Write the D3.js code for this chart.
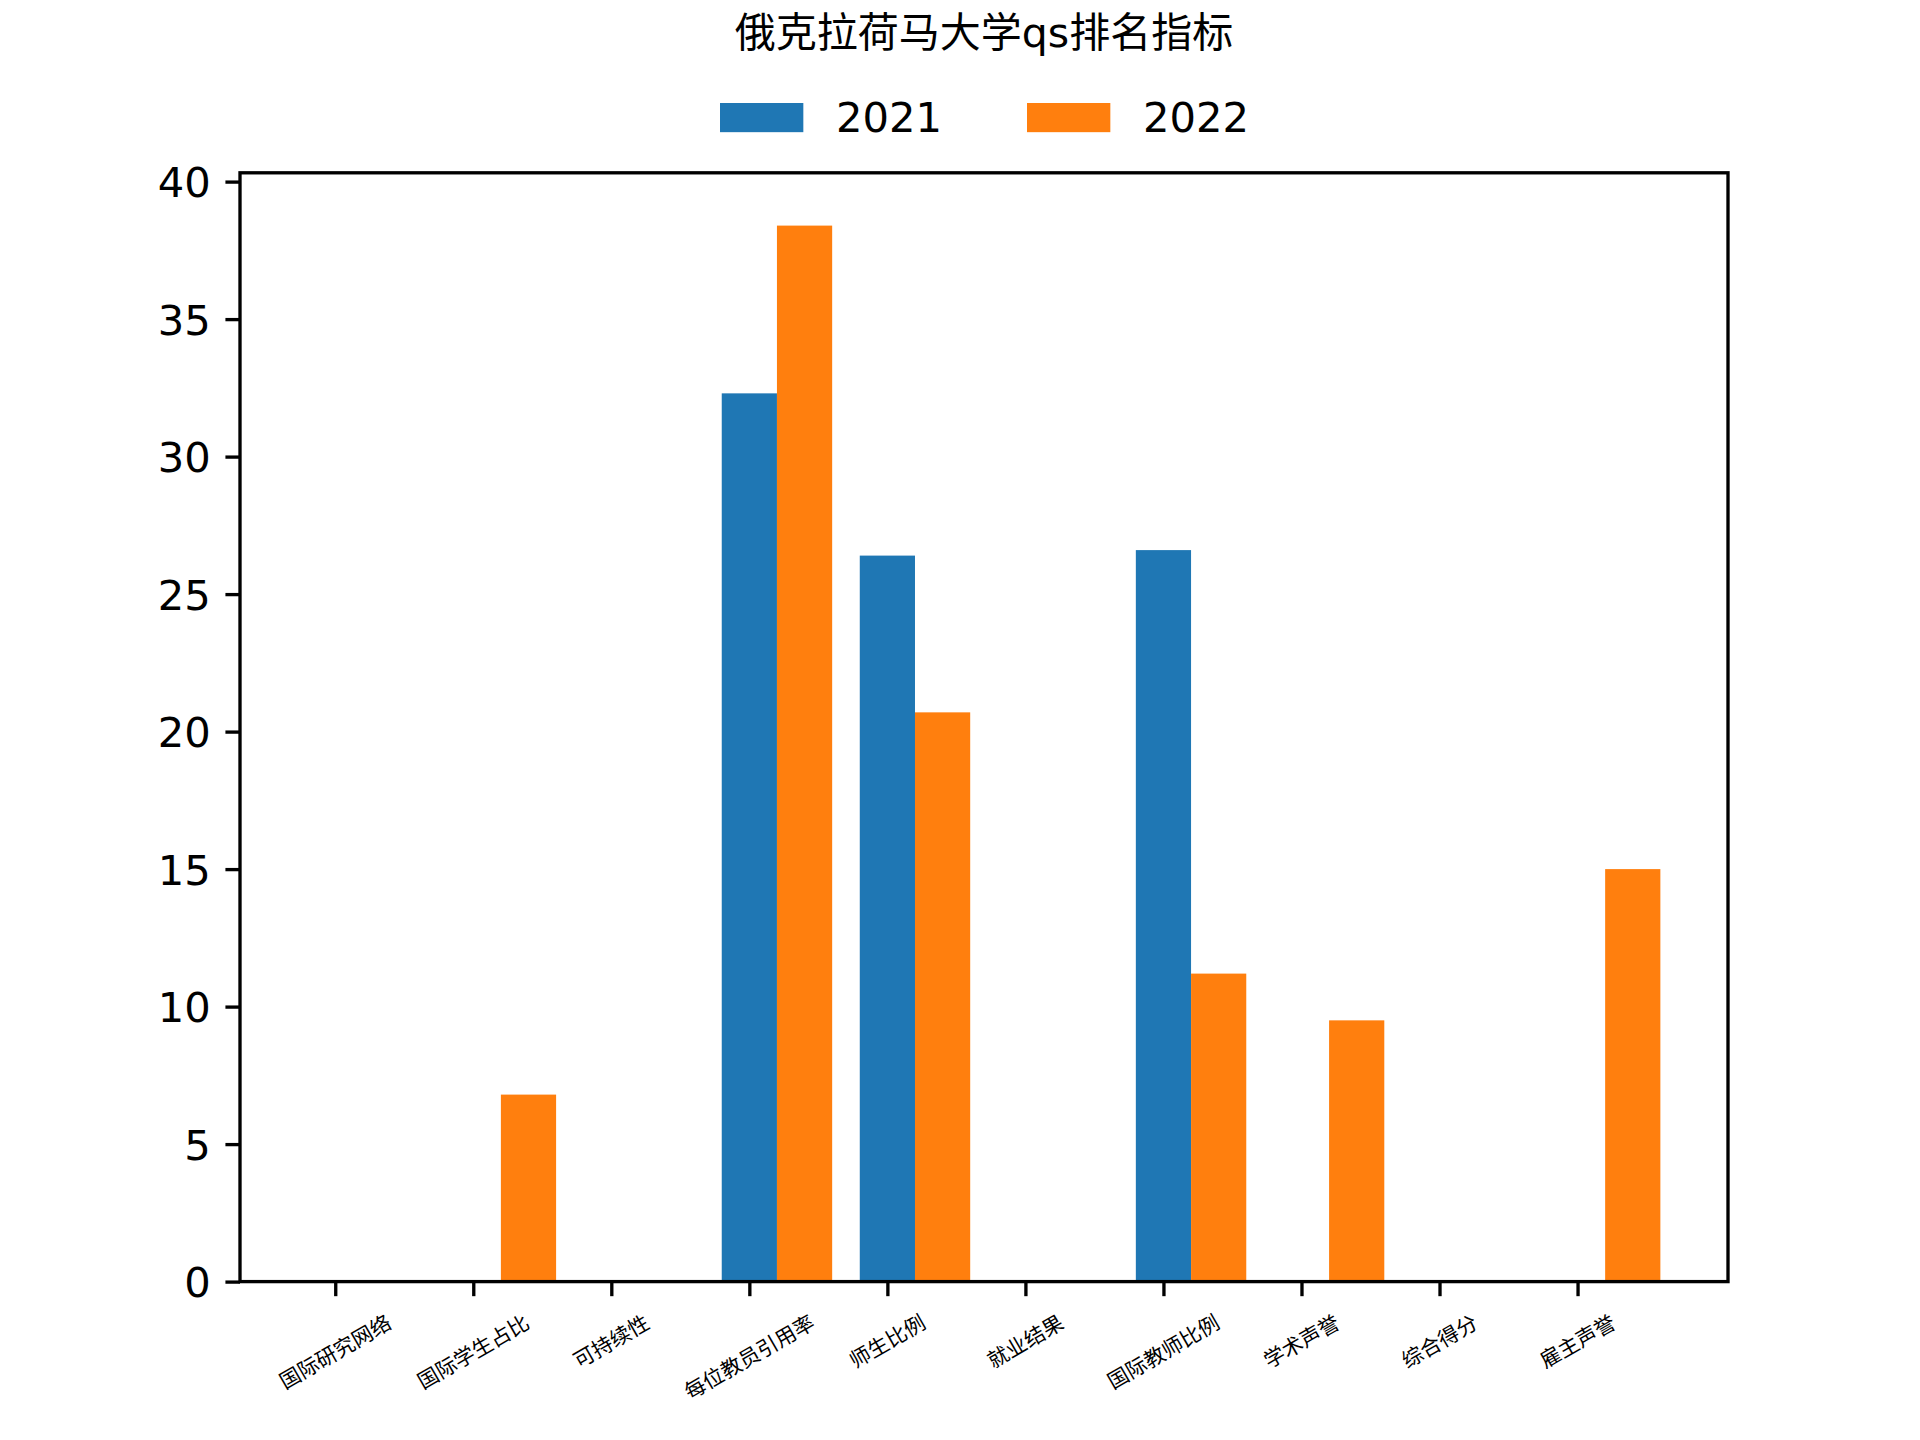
<!DOCTYPE html>
<html>
<head>
<meta charset="utf-8">
<script src="https://cdn.jsdelivr.net/npm/d3@7"></script>
<style>
	body { margin: 0; background: #fff; }
	svg { display: block; }
	.cjk { font-family: 'DejaVu Sans', 'Noto Sans CJK SC', sans-serif; }
</style>
</head>
<body>
<div class="container"></div>
<script>
var categories = ['国际研究网络', '国际学生占比', '可持续性', '每位教员引用率', '师生比例',
	'就业结果', '国际教师比例', '学术声誉', '综合得分', '雇主声誉'];
var years = ['2021', '2022'];
var values2021 = [0, 0, 0, 32.3, 26.4, 0, 26.6, 0, 0, 0];
var values2022 = [0, 6.8, 0, 38.4, 20.7, 0, 11.2, 9.5, 0, 15.0];
var yTicks = [0, 5, 10, 15, 20, 25, 30, 35, 40];
var titleText = '俄克拉荷马大学qs排名指标';

var colors = ['#1f77b4', '#ff7f0e'];
var series = [values2021, values2022];

var W = 1920, H = 1440;
var plotLeft = 240, plotRight = 1728, plotTop = 172.8, plotBottom = 1281.6;
var pt = 300 / 72;
var lw = 0.8 * pt;
var tickLen = 3.5 * pt;
var pad = 3.5 * pt;
var barW = 0.4;

var svg = d3.select('.container')
	.append('svg')
	.attr('width', W)
	.attr('height', H);

// matplotlib style autoscale: 5% margin
var xmin = -barW / 2, xmax = categories.length - 1 + barW * 1.5;
var xm = (xmax - xmin) * 0.05;
var x = d3.scaleLinear()
	.domain([xmin - xm, xmax + xm])
	.range([plotLeft, plotRight]);

var ymax = d3.max(values2021.concat(values2022)) * 1.05;
var y = d3.scaleLinear()
	.domain([0, ymax])
	.range([plotBottom, plotTop]);

// bars
series.forEach(function(vals, s) {
	svg.append('g')
		.selectAll('rect')
		.data(vals)
		.enter()
		.append('rect')
		.attr('x', function(d, i) { return x(i - barW / 2 + s * barW); })
		.attr('width', x(barW) - x(0))
		.attr('y', function(d) { return y(d); })
		.attr('height', function(d) { return y(0) - y(d); })
		.attr('fill', colors[s]);
});

// y axis
var yAxis = svg.append('g')
	.attr('transform', 'translate(' + plotLeft + ',0)')
	.call(d3.axisLeft(y).tickValues(yTicks).tickSize(tickLen).tickPadding(pad).tickFormat(d3.format('d')));
yAxis.select('.domain').remove();
yAxis.selectAll('.tick line').attr('stroke', '#000').attr('stroke-width', lw);
yAxis.selectAll('.tick text')
	.attr('font-family', 'DejaVu Sans')
	.attr('font-size', 10 * pt)
	.attr('fill', '#000')
	.attr('dy', '0.36em');

// x axis
var xAxis = svg.append('g')
	.attr('transform', 'translate(0,' + plotBottom + ')')
	.call(d3.axisBottom(x).tickValues(d3.range(categories.length)).tickSize(tickLen).tickFormat(''));
xAxis.select('.domain').remove();
xAxis.selectAll('.tick line').attr('stroke', '#000').attr('stroke-width', lw);

// rotated category labels, bbox centred under the tick
var labFont = 5 * pt;
var rot = 30 * Math.PI / 180;
categories.forEach(function(c, i) {
	var g = svg.append('g');
	var t = g.append('text')
		.attr('class', 'cjk')
		.attr('font-size', labFont)
		.attr('text-anchor', 'middle')
		.attr('dy', '0.36em')
		.text(c);
	var L = t.node().getComputedTextLength();
	var bh = L * Math.sin(rot) + labFont * 1.1 * Math.cos(rot);
	var cy = plotBottom + tickLen + pad + bh / 2;
	g.attr('transform', 'translate(' + x(i) + ',' + cy + ') rotate(-30)');
});

// spines
svg.append('rect')
	.attr('x', plotLeft)
	.attr('y', plotTop)
	.attr('width', plotRight - plotLeft)
	.attr('height', plotBottom - plotTop)
	.attr('fill', 'none')
	.attr('stroke', '#000')
	.attr('stroke-width', lw);

// title
svg.append('text')
	.attr('class', 'cjk')
	.attr('x', (plotLeft + plotRight) / 2)
	.attr('y', 33)
	.attr('text-anchor', 'middle')
	.attr('dominant-baseline', 'central')
	.attr('font-size', 41)
	.text(titleText);

// legend
var legend = svg.append('g')
	.selectAll('g')
	.data(years)
	.enter()
	.append('g')
	.attr('transform', function(d, i) { return 'translate(' + (720 + i * 307) + ',0)'; });
legend.append('rect')
	.attr('x', 0)
	.attr('y', 103)
	.attr('width', 2 * 10 * pt)
	.attr('height', 0.7 * 10 * pt)
	.attr('fill', function(d, i) { return colors[i]; });
legend.append('text')
	.attr('x', 116)
	.attr('y', 132)
	.attr('font-family', 'DejaVu Sans')
	.attr('font-size', 10 * pt)
	.text(function(d) { return d; });
</script>
</body>
</html>
